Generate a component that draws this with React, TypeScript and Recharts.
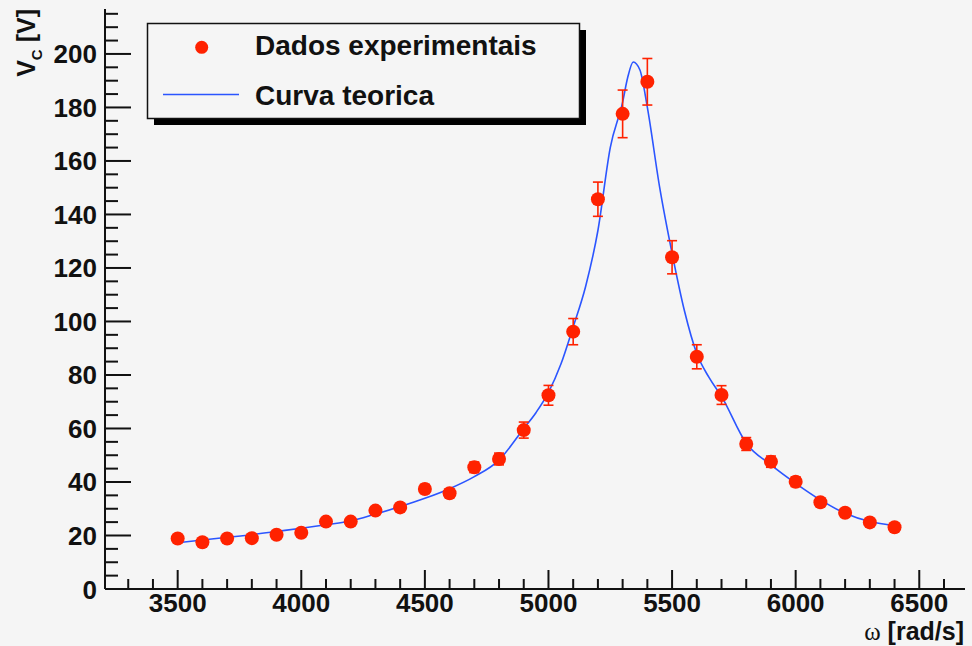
import React from 'react';
import { ComposedChart, Scatter, Line, XAxis, YAxis, ErrorBar } from 'recharts';

// Experimental data
const omega = [3500, 3600, 3700, 3800, 3900, 4000, 4100, 4200, 4300, 4400, 4500, 4600, 4700, 4800, 4900, 5000, 5100, 5200, 5300, 5400, 5500, 5600, 5700, 5800, 5900, 6000, 6100, 6200, 6300, 6400];
const vcMeasured = [18.9, 17.5, 18.9, 19.0, 20.3, 21.0, 25.2, 25.2, 29.3, 30.5, 37.4, 35.8, 45.5, 48.6, 59.4, 72.4, 96.2, 145.7, 177.6, 189.6, 124.0, 86.8, 72.5, 54.2, 47.6, 40.1, 32.4, 28.5, 24.9, 23.1];
const vcError = [0.8, 0.8, 0.8, 0.9, 0.9, 1.0, 1.1, 1.1, 1.3, 1.4, 1.7, 1.6, 2.0, 2.2, 3.0, 3.7, 4.9, 6.4, 8.9, 8.7, 6.2, 4.5, 3.5, 2.4, 2.1, 1.8, 1.5, 1.3, 1.1, 1.0];

// Theoretical curve
const curveOmega = [3500, 3600, 3700, 3800, 3900, 4000, 4100, 4200, 4300, 4400, 4500, 4600, 4700, 4800, 4900, 4950, 5000, 5050, 5100, 5150, 5200, 5250, 5300, 5320, 5343, 5370, 5400, 5450, 5500, 5550, 5600, 5650, 5700, 5800, 5900, 6000, 6100, 6200, 6300, 6400];
const curveVc = [17.3, 18.3, 19.3, 20.3, 21.5, 22.7, 24.0, 25.4, 28.0, 30.8, 33.9, 37.5, 42.0, 48.2, 60.0, 66.0, 73.5, 84.0, 98.0, 113.0, 134.0, 165.0, 182.0, 191.0, 197.0, 194.0, 180.0, 150.0, 125.5, 104.0, 88.0, 79.0, 72.0, 54.5, 46.4, 39.5, 33.3, 28.3, 25.2, 23.7];

// Axis ticks
const xMajorTicks = [3500, 4000, 4500, 5000, 5500, 6000, 6500];
const xAllTicks = [3300, 3400, 3500, 3600, 3700, 3800, 3900, 4000, 4100, 4200, 4300, 4400, 4500, 4600, 4700, 4800, 4900, 5000, 5100, 5200, 5300, 5400, 5500, 5600, 5700, 5800, 5900, 6000, 6100, 6200, 6300, 6400, 6500, 6600];
const yMajorTicks = [0, 20, 40, 60, 80, 100, 120, 140, 160, 180, 200];
const yAllTicks = [0, 5, 10, 15, 20, 25, 30, 35, 40, 45, 50, 55, 60, 65, 70, 75, 80, 85, 90, 95, 100, 105, 110, 115, 120, 125, 130, 135, 140, 145, 150, 155, 160, 165, 170, 175, 180, 185, 190, 195, 200, 205, 210, 215];

const points = omega.map((w, i) => ({ w, v: vcMeasured[i], err: vcError[i] }));
const curve = curveOmega.map((w, i) => ({ w, v: curveVc[i] }));

const FONT = '"Liberation Sans", Arial, Helvetica, sans-serif';
const BG = '#f5f5f5';
const RED = '#ff2200';
const BLUE = '#2b55ff';
const INK = '#111';

const XTick = (props: any) => {
  const { x, y, payload } = props;
  const major = xMajorTicks.includes(payload.value);
  return (
    <g>
      <line x1={x} y1={y} x2={x} y2={y - (major ? 19 : 10)} stroke={INK} strokeWidth={2} />
      {major && (
        <text x={x} y={y + 23} textAnchor="middle" fontFamily={FONT} fontWeight="bold" fontSize={26} fill={INK}>
          {payload.value}
        </text>
      )}
    </g>
  );
};

const YTick = (props: any) => {
  const { x, y, payload } = props;
  const major = yMajorTicks.includes(payload.value);
  return (
    <g>
      <line x1={x} y1={y} x2={x + (major ? 26 : 13)} y2={y} stroke={INK} strokeWidth={2} />
      {major && (
        <text x={x - 8} y={y + 9.5} textAnchor="end" fontFamily={FONT} fontWeight="bold" fontSize={26} fill={INK}>
          {payload.value}
        </text>
      )}
    </g>
  );
};

const Dot = (props: any) => {
  const { cx, cy } = props;
  if (cx == null || cy == null) return null;
  return <circle cx={cx} cy={cy} r={7} fill={RED} />;
};

export default function App() {
  return (
    <div style={{ position: 'absolute', left: 0, top: 0, width: 972, height: 646, background: BG, overflow: 'hidden' }}>
      <ComposedChart width={972} height={646} margin={{ top: 9, right: 7, bottom: 0, left: 0 }}>
        <XAxis
          dataKey="w"
          type="number"
          domain={[3206, 6685]}
          allowDataOverflow
          ticks={xAllTicks}
          interval={0}
          tick={<XTick />}
          tickLine={false}
          tickSize={0}
          tickMargin={0}
          height={57}
          axisLine={{ stroke: INK, strokeWidth: 2 }}
        />
        <XAxis
          xAxisId="top"
          orientation="top"
          type="number"
          domain={[3206, 6685]}
          tick={false}
          tickLine={false}
          height={0}
          axisLine={{ stroke: '#333', strokeWidth: 2 }}
        />
        <YAxis
          type="number"
          domain={[0, 216.8]}
          allowDataOverflow
          ticks={yAllTicks}
          interval={0}
          tick={<YTick />}
          tickLine={false}
          tickSize={0}
          tickMargin={0}
          width={105}
          axisLine={{ stroke: INK, strokeWidth: 2 }}
        />
        <YAxis
          yAxisId="right"
          orientation="right"
          type="number"
          domain={[0, 216.8]}
          tick={false}
          tickLine={false}
          width={0}
          axisLine={{ stroke: '#222', strokeWidth: 2.5 }}
        />
        <Line
          data={curve}
          dataKey="v"
          type="monotone"
          stroke={BLUE}
          strokeWidth={1.6}
          dot={false}
          activeDot={false}
          isAnimationActive={false}
        />
        <Scatter data={points} dataKey="v" fill={RED} shape={<Dot />} isAnimationActive={false}>
          <ErrorBar dataKey="err" direction="y" width={5} stroke={RED} strokeWidth={1.6} />
        </Scatter>
      </ComposedChart>
      <svg width={972} height={646} style={{ position: 'absolute', left: 0, top: 0, pointerEvents: 'none' }}>
        {/* Legend */}
        <rect x={154} y={30} width={432} height={95} fill="#000" />
        <rect x={147.5} y={23.5} width={432} height={95} fill={BG} stroke={INK} strokeWidth={1.5} />
        <circle cx={201.7} cy={47.3} r={6.5} fill={RED} />
        <text x={255} y={55} fontFamily={FONT} fontWeight="bold" fontSize={28} fill={INK}>Dados experimentais</text>
        <line x1={163} y1={94.5} x2={239} y2={94.5} stroke={BLUE} strokeWidth={1.6} />
        <text x={255} y={105} fontFamily={FONT} fontWeight="bold" fontSize={28} fill={INK}>Curva teorica</text>
        {/* Axis titles */}
        <text x={964} y={640} textAnchor="end" fontFamily={FONT} fontWeight="bold" fontSize={25} fill={INK}>
          <tspan fontFamily='"Liberation Serif", serif' fontWeight="normal">ω</tspan> [rad/s]
        </text>
        <text transform="rotate(-90)" x={-9} y={35} textAnchor="end" fontFamily={FONT} fontWeight="bold" fontSize={25} fill={INK}>
          V<tspan fontSize={15} dy={7}>C</tspan><tspan dy={-7}> [V]</tspan>
        </text>
      </svg>
    </div>
  );
}
